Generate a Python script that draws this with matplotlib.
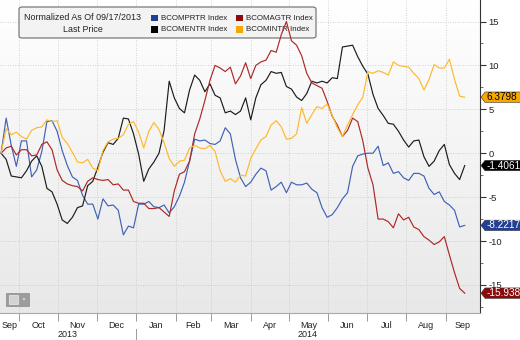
import numpy as np
import pandas as pd
import matplotlib
matplotlib.use('Agg')
import matplotlib.pyplot as plt
import matplotlib.dates as mdates
from matplotlib.ticker import MultipleLocator, NullFormatter
from matplotlib.patches import FancyBboxPatch, Rectangle, Polygon
from matplotlib.colors import LinearSegmentedColormap

plt.rcParams['font.family'] = ['Liberation Sans', 'DejaVu Sans']
plt.rcParams['axes.unicode_minus'] = False

# values normalized as of 09/17/2013, one reading every 4 days
dates = pd.date_range('2013-09-17', periods=92, freq='4D')

bcomprtr = [0.0, 4.0, 0.9, -1.5, 1.4, 1.4, -2.7, -1.9, 0.2, 3.6,
            3.7, 2.5, 0.3, -1.4, -2.7, -3.1, -4.8, -5.8, -5.8, -7.5,
            -5.2, -6.0, -5.9, -6.5, -9.3, -8.3, -8.5, -5.8, -5.8, -5.5,
            -6.1, -6.2, -5.9, -6.8, -6.1, -4.9, -3.3, -0.9, 1.6, 1.4,
            1.5, 1.1, 1.0, 1.4, 2.9, 2.2, -0.7, -2.8, -3.8, -3.3,
            -2.4, -1.7, -2.0, -4.2, -3.8, -3.3, -4.5, -3.3, -3.6, -3.6,
            -3.4, -4.1, -4.5, -6.2, -7.3, -7.0, -6.2, -5.2, -4.5, -1.5,
            -0.3, -0.1, 0.0, 0.0, 0.8, -1.4, -1.1, -2.3, -2.1, -2.8,
            -3.1, -2.3, -2.3, -2.6, -4.0, -4.7, -4.4, -5.5, -5.9, -6.5,
            -8.4, -8.2217]

bcomentr = [0.0, -0.7, -2.6, -2.7, -2.8, -2.0, -0.9, -0.3, -1.5, -4.0,
            -4.4, -5.8, -7.6, -8.0, -7.3, -6.2, -6.0, -3.7, -3.2, -1.6,
            0.1, 1.2, 1.0, 1.7, 4.0, 3.9, 2.2, -0.1, -3.2, -1.8,
            -1.0, 0.0, 2.6, 8.2, 6.3, 5.1, 4.6, 7.2, 8.9, 8.3,
            7.0, 7.9, 6.6, 6.3, 4.6, 4.8, 4.4, 4.8, 6.3, 3.8,
            6.3, 7.8, 8.3, 9.3, 9.1, 9.2, 7.6, 7.3, 6.4, 6.0,
            6.8, 8.2, 8.0, 8.2, 8.0, 8.6, 8.5, 12.1, 12.2, 12.3,
            11.0, 9.9, 9.0, 6.7, 5.1, 4.3, 3.4, 3.3, 2.5, 1.5,
            0.7, 1.4, 1.5, -0.4, -1.5, -0.9, 0.3, 1.0, -1.3, -2.3,
            -3.0, -1.4061]

bcomagtr = [0.0, 0.6, 0.8, -0.2, 0.4, 0.4, -0.3, -0.2, 1.0, 1.3,
            0.4, -1.9, -3.1, -3.5, -3.7, -3.8, -4.3, -3.2, -2.8, -3.0,
            -3.1, -3.0, -3.6, -3.5, -4.2, -4.2, -5.5, -5.7, -5.7, -6.3,
            -6.3, -6.2, -6.7, -7.2, -4.3, -2.4, -2.1, -0.9, 2.2, 3.9,
            6.0, 8.3, 10.0, 9.7, 9.3, 9.8, 7.9, 8.8, 10.3, 8.5,
            10.0, 10.4, 10.6, 11.7, 11.5, 13.5, 15.0, 12.8, 12.3, 11.1,
            9.1, 8.0, 7.7, 7.4, 5.9, 4.2, 3.2, 1.9, 2.6, 4.0,
            3.6, 1.4, -1.7, -3.6, -7.5, -7.5, -7.8, -8.5, -6.9, -7.6,
            -7.3, -8.4, -8.7, -9.5, -9.9, -10.4, -10.1, -9.5, -11.6, -13.6,
            -15.4, -15.9382]

bcomintr = [0.0, 2.8, 2.1, 2.4, 1.9, 1.6, 2.6, 2.9, 3.0, 3.8,
            3.6, 3.7, 1.8, 1.1, 0.1, -1.0, -1.1, -0.7, -1.7, -2.0,
            0.3, 1.3, 1.6, 1.7, 2.1, 3.3, 3.6, 2.4, 0.6, 2.5,
            3.5, 2.7, 1.2, -0.6, -1.5, -0.9, -0.8, 0.6, 0.9, 0.6,
            0.5, 0.9, 0.2, -2.0, -3.2, -2.9, -3.3, -2.5, -2.6, -0.6,
            0.5, 1.5, 1.9, 3.2, 3.7, 3.0, 1.6, 1.7, 2.2, 5.2,
            3.4, 4.4, 5.3, 5.1, 5.6, 4.3, 2.9, 1.9, 3.2, 4.4,
            5.5, 6.4, 9.3, 9.1, 9.4, 9.2, 8.9, 10.4, 10.0, 9.9,
            9.8, 9.1, 8.5, 7.2, 8.4, 10.1, 9.7, 9.7, 10.7, 8.4,
            6.5, 6.3798]

names = ['BCOMPRTR Index', 'BCOMENTR Index', 'BCOMAGTR Index', 'BCOMINTR Index']
values = [bcomprtr, bcomentr, bcomagtr, bcomintr]
line_colors = ['#4062b5', '#1c1c1c', '#ad2828', '#ffb92a']
box_colors = ['#223f98', '#000000', '#8a0b0b', '#f7a800']
text_colors = ['white', 'white', 'white', 'black']

W, H = 520, 340
AX_RIGHT, AX_BOTTOM = 480, 313

def fx(px):
    return px / W

def fy(py):
    return 1 - py / H

fig = plt.figure(figsize=(W / 100, H / 100), dpi=100)
pos = [0, fy(AX_BOTTOM), fx(AX_RIGHT), AX_BOTTOM / H]

# soft grey gradient behind the plot
bg = fig.add_axes(pos, zorder=-1)
bg.imshow(np.linspace(0, 1, 256).reshape(-1, 1), aspect='auto', extent=[0, 1, 0, 1],
          cmap=LinearSegmentedColormap.from_list('bg', ['#ffffff', '#e8e8e8']))
bg.axis('off')

ax = fig.add_axes(pos)
ax.set_facecolor('none')

for vals, col in zip(values, line_colors):
    ax.plot(dates, vals, color=col, lw=0.85, zorder=3)

x0 = pd.Timestamp('2013-09-16 04:00')
x1 = pd.Timestamp('2014-09-28')
ax.set_xlim(x0, x1)
ax.set_ylim(-18.2, 17.45)

# y axis on the right
ax.yaxis.tick_right()
ax.set_yticks(range(-15, 16, 5))
ax.yaxis.set_minor_locator(MultipleLocator(2.5))
ax.tick_params(axis='y', which='major', direction='out', length=4, width=0.8,
               color='#333333', labelsize=6.8, labelcolor='#222222', pad=2)
ax.tick_params(axis='y', which='minor', direction='out', length=2.5, width=0.6, color='#555555')

# x axis: month boundaries as ticks, month names centred in each month
ax.xaxis.set_major_locator(mdates.MonthLocator())
ax.xaxis.set_major_formatter(NullFormatter())
ax.tick_params(axis='x', which='major', direction='out', length=6, width=0.7, color='#9a9a9a')
starts = [x0] + list(pd.date_range('2013-10-01', '2014-09-01', freq='MS')) + [x1]
centers = [a + (b - a) / 2 for a, b in zip(starts[:-1], starts[1:])]
ax.set_xticks(centers, minor=True)
ax.set_xticklabels([c.strftime('%b') for c in centers], minor=True)
ax.tick_params(axis='x', which='minor', length=0, labelsize=6.5, labelcolor='#222222', pad=6)

xt = ax.get_xaxis_transform()
jan = pd.Timestamp('2014-01-01')
ax.text(x0 + (jan - x0) / 2, -0.07, '2013', transform=xt, ha='center', va='center',
        fontsize=6.5, color='#222222')
ax.text(jan + (x1 - jan) / 2, -0.07, '2014', transform=xt, ha='center', va='center',
        fontsize=6.5, color='#222222')
ax.plot([jan, jan], [-0.05, -0.1], transform=xt, color='#9a9a9a', lw=0.7, clip_on=False)

ax.grid(True, which='major', linestyle=(0, (1, 2)), color='#c4c4c4', lw=0.6)
ax.set_axisbelow(True)
for side in ['top', 'left']:
    ax.spines[side].set_visible(False)
ax.spines['bottom'].set_color('#a8a8a8')
ax.spines['right'].set_color('#333333')

# legend box (lines are drawn over it, as in the terminal chart)
ft = fig.transFigure
ax.add_patch(FancyBboxPatch((fx(19), fy(38)), fx(297), 31 / H, transform=ft,
                            boxstyle='round,pad=0,rounding_size=0.006',
                            facecolor='#f3f3f3', edgecolor='#6a6a6a', lw=0.8,
                            zorder=2.2, clip_on=False))
ax.text(fx(83), fy(18), 'Normalized As Of 09/17/2013', transform=ft, ha='center',
        va='center', fontsize=6.4, color='#222222', zorder=2.4)
ax.text(fx(83), fy(29.5), 'Last Price', transform=ft, ha='center', va='center',
        fontsize=6.4, color='#222222', zorder=2.4)
slots = [(151, 18), (151, 29.5), (236, 18), (236, 29.5)]
for (sx, sy), name, col in zip(slots, names, box_colors):
    ax.add_patch(Rectangle((fx(sx), fy(sy + 3.3)), fx(6.6), 6.6 / H, transform=ft,
                           facecolor=col, edgecolor='none', zorder=2.3, clip_on=False))
    ax.text(fx(sx + 10), fy(sy), name, transform=ft, ha='left', va='center',
            fontsize=5.7, color='#222222', zorder=2.4)

# last value tags on the right axis
yt = ax.get_yaxis_transform()
half = 5.2 / (AX_BOTTOM / (17.45 + 18.2))
for vals, col, tcol in zip(values, box_colors, text_colors):
    last = vals[-1]
    tip, body, end = 481 / AX_RIGHT, 485 / AX_RIGHT, 530 / AX_RIGHT
    ax.add_patch(Polygon([(tip, last), (body, last + half), (end, last + half),
                          (end, last - half), (body, last - half)], closed=True,
                         transform=yt, facecolor=col, edgecolor='#333333', lw=0.4,
                         zorder=6, clip_on=False))
    ax.text(486.5 / AX_RIGHT, last, f'{last:.4f}', transform=yt, ha='left', va='center',
            fontsize=7.2, color=tcol, zorder=7, clip_on=False)

# small chart-type button at the bottom left
ax.add_patch(Rectangle((fx(6), fy(306)), fx(22.5), 13.3 / H, transform=ft,
                       facecolor='#9c9c9c', edgecolor='#8a8a8a', lw=0.5, zorder=4))
ax.add_patch(Rectangle((fx(8.5), fy(304)), fx(9.5), 9 / H, transform=ft,
                       facecolor='#d2d2d2', edgecolor='#efefef', lw=0.5, zorder=5))
ax.add_patch(Polygon([(fx(22.5), fy(298.5)), (fx(25.5), fy(298.5)), (fx(24), fy(300.5))],
                     transform=ft, facecolor='#eeeeee', edgecolor='none', zorder=5))

fig.savefig('out.png', dpi=100, facecolor='white')
